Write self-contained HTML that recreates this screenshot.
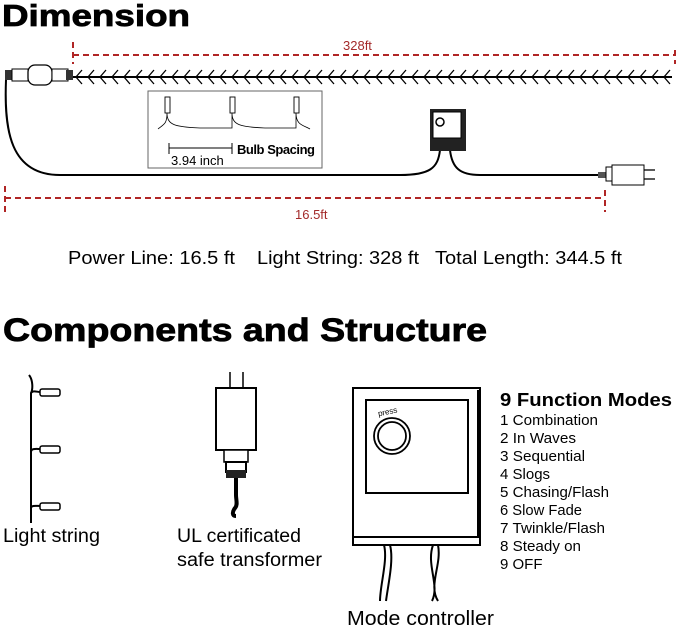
<!DOCTYPE html>
<html><head><meta charset="utf-8"><style>
html,body{margin:0;padding:0;background:#fff;}
svg{display:block;font-family:"Liberation Sans",Arial,sans-serif;}
</style></head><body>
<svg width="679" height="628" viewBox="0 0 679 628" xmlns="http://www.w3.org/2000/svg">
<text x="2" y="26" font-size="31" font-weight="bold" fill="#000" textLength="188" lengthAdjust="spacingAndGlyphs" stroke="#000" stroke-width="0.8">Dimension</text>
<g stroke="#b02525" stroke-width="2" stroke-dasharray="6,4" fill="none">
<line x1="73" y1="55" x2="675" y2="55"/>
<line x1="73" y1="42" x2="73" y2="64"/>
<line x1="675" y1="50" x2="675" y2="64"/>
<line x1="5" y1="198" x2="605" y2="198"/>
<line x1="5" y1="186" x2="5" y2="212"/>
<line x1="605" y1="190" x2="605" y2="212"/>
</g>
<text x="343" y="50" font-size="13" fill="#a32a2a">328ft</text>
<text x="295" y="219" font-size="13" fill="#a32a2a">16.5ft</text>
<line x1="72" y1="77" x2="672" y2="77" stroke="#000" stroke-width="2"/>
<g stroke="#000" stroke-width="1.3" fill="none">
<path d="M82 70 L76 77 L82 84 M94 70 L88 77 L94 84 M106 70 L100 77 L106 84 M118 70 L112 77 L118 84 M130 70 L124 77 L130 84 M142 70 L136 77 L142 84 M154 70 L148 77 L154 84 M166 70 L160 77 L166 84 M178 70 L172 77 L178 84 M190 70 L184 77 L190 84 M202 70 L196 77 L202 84 M214 70 L208 77 L214 84 M226 70 L220 77 L226 84 M238 70 L232 77 L238 84 M250 70 L244 77 L250 84 M262 70 L256 77 L262 84 M274 70 L268 77 L274 84 M286 70 L280 77 L286 84 M298 70 L292 77 L298 84 M310 70 L304 77 L310 84 M322 70 L316 77 L322 84 M334 70 L328 77 L334 84 M346 70 L340 77 L346 84 M358 70 L352 77 L358 84 M370 70 L364 77 L370 84 M382 70 L376 77 L382 84 M394 70 L388 77 L394 84 M406 70 L400 77 L406 84 M418 70 L412 77 L418 84 M430 70 L424 77 L430 84 M442 70 L436 77 L442 84 M454 70 L448 77 L454 84 M466 70 L460 77 L466 84 M478 70 L472 77 L478 84 M490 70 L484 77 L490 84 M502 70 L496 77 L502 84 M514 70 L508 77 L514 84 M526 70 L520 77 L526 84 M538 70 L532 77 L538 84 M550 70 L544 77 L550 84 M562 70 L556 77 L562 84 M574 70 L568 77 L574 84 M586 70 L580 77 L586 84 M598 70 L592 77 L598 84 M610 70 L604 77 L610 84 M622 70 L616 77 L622 84 M634 70 L628 77 L634 84 M646 70 L640 77 L646 84 M658 70 L652 77 L658 84 M670 70 L664 77 L670 84"/>
</g>
<rect x="5" y="70" width="8" height="10" fill="#333"/>
<rect x="12" y="69" width="16" height="12" fill="#fff" stroke="#000"/>
<rect x="28" y="65" width="24" height="20" rx="7" fill="#fff" stroke="#000" stroke-width="1.3"/>
<rect x="52" y="69" width="16" height="12" fill="#fff" stroke="#000"/>
<rect x="66" y="70" width="7" height="10" fill="#333"/>
<path d="M6 80 C4 130 10 175 60 175 L400 175 C430 175 438 168 440 150" stroke="#000" stroke-width="2" fill="none"/>
<path d="M450 150 C452 168 460 175 480 175 L600 175" stroke="#000" stroke-width="2" fill="none"/>
<rect x="430" y="109" width="36" height="42" fill="#222"/>
<rect x="433" y="112" width="28" height="26" fill="#fff" stroke="#000"/>
<circle cx="440" cy="122" r="4" fill="none" stroke="#000" stroke-width="1.5"/>
<rect x="598" y="172" width="8" height="6" fill="#555"/>
<rect x="606" y="167" width="6" height="14" fill="#fff" stroke="#000"/>
<rect x="612" y="165" width="32" height="20" fill="#fff" stroke="#000"/>
<line x1="644" y1="170" x2="655" y2="170" stroke="#000" stroke-width="1.3"/>
<line x1="644" y1="179" x2="655" y2="179" stroke="#000" stroke-width="1.3"/>
<rect x="148" y="91" width="174" height="77" fill="#fff" stroke="#666"/>
<g stroke="#000" stroke-width="0.9" fill="#fff">
<rect x="165" y="97" width="5" height="16"/>
<rect x="230" y="97" width="5" height="16"/>
<rect x="294" y="97" width="5" height="16"/>
</g>
<path d="M158 129 C164 124 167 124 167 113 C167 125 175 127 200 128 L232 128 C232 124 232 118 232 113 C232 125 240 127 265 128 L296 128 C296 120 296 115 296 113 C296 125 303 125 310 129" stroke="#000" stroke-width="0.8" fill="none"/>
<line x1="169" y1="148" x2="232" y2="148" stroke="#000" stroke-width="1"/>
<line x1="169" y1="143" x2="169" y2="154" stroke="#000"/>
<line x1="232" y1="143" x2="232" y2="154" stroke="#000"/>
<text x="171" y="165" font-size="13" fill="#000">3.94 inch</text>
<text x="237" y="154" font-size="13" font-weight="bold" fill="#000" textLength="78">Bulb Spacing</text>
<g font-size="18.5" fill="#000">
<text x="68" y="264" textLength="167" lengthAdjust="spacingAndGlyphs">Power Line: 16.5 ft</text>
<text x="257" y="264" textLength="162" lengthAdjust="spacingAndGlyphs">Light String: 328 ft</text>
<text x="435" y="264" textLength="187" lengthAdjust="spacingAndGlyphs">Total Length: 344.5 ft</text>
</g>
<text x="3" y="341" font-size="32" font-weight="bold" fill="#000" textLength="484" lengthAdjust="spacingAndGlyphs" stroke="#000" stroke-width="0.8">Components and Structure</text>
<path d="M29 375 C33 380 33 389 31 393 L31 523 M31 393 C33 390 37 392 40 392 M31 452 C31 448 37 449 40 449 M31 508 C31 505 37 506 40 506" stroke="#000" stroke-width="2" fill="none"/>
<g fill="#fff" stroke="#000" stroke-width="1.5">
<rect x="40" y="389" width="20" height="7" rx="2"/>
<rect x="40" y="446" width="20" height="7" rx="2"/>
<rect x="40" y="503" width="20" height="7" rx="2"/>
</g>
<text x="3" y="542" font-size="19" fill="#000" textLength="97" lengthAdjust="spacingAndGlyphs">Light string</text>
<line x1="230" y1="372" x2="230" y2="388" stroke="#000" stroke-width="1.5"/>
<line x1="243" y1="372" x2="243" y2="388" stroke="#000" stroke-width="1.5"/>
<rect x="216" y="388" width="40" height="62" fill="#fff" stroke="#000" stroke-width="2"/>
<rect x="224" y="450" width="24" height="12" fill="#fff" stroke="#000" stroke-width="1.5"/>
<rect x="226" y="462" width="20" height="10" fill="#fff" stroke="#000" stroke-width="2"/>
<rect x="226" y="470" width="20" height="8" fill="#222"/>
<path d="M236 478 L236 495 C236 500 238 505 235 508 C232 512 232 516 236 516" stroke="#000" stroke-width="4" fill="none"/>
<text x="177" y="542" font-size="19" fill="#000" textLength="124" lengthAdjust="spacingAndGlyphs">UL certificated</text>
<text x="177" y="566" font-size="19" fill="#000" textLength="145" lengthAdjust="spacingAndGlyphs">safe transformer</text>
<rect x="353" y="388" width="127" height="149" fill="#fff" stroke="#000" stroke-width="2"/>
<line x1="479" y1="390" x2="479" y2="536" stroke="#000" stroke-width="4"/>
<rect x="366" y="400" width="102" height="93" fill="#fff" stroke="#000" stroke-width="2"/>
<circle cx="392" cy="436" r="18" fill="#fff" stroke="#000" stroke-width="1.8"/>
<circle cx="392" cy="436" r="14" fill="#fff" stroke="#000" stroke-width="1.8"/>
<text x="378" y="415" font-size="8" fill="#000" transform="rotate(-12 385 413)">press</text>
<rect x="353" y="537" width="127" height="8" fill="#fff" stroke="#000" stroke-width="2"/>
<path d="M384 545 C388 560 380 585 380 601 M390 545 C394 560 388 585 386 601 M433 545 C426 565 440 585 432 601 M438 545 C442 565 428 585 438 601" stroke="#000" stroke-width="2" fill="none"/>
<text x="347" y="625" font-size="20" fill="#000" textLength="147" lengthAdjust="spacingAndGlyphs">Mode controller</text>
<text x="500" y="406" font-size="18" font-weight="bold" fill="#000" textLength="172" lengthAdjust="spacingAndGlyphs">9 Function Modes</text>
<g font-size="15" fill="#000">
<text x="500" y="425" textLength="98" lengthAdjust="spacingAndGlyphs">1 Combination</text>
<text x="500" y="443" textLength="76" lengthAdjust="spacingAndGlyphs">2 In Waves</text>
<text x="500" y="461" textLength="85" lengthAdjust="spacingAndGlyphs">3 Sequential</text>
<text x="500" y="479">4 Slogs</text>
<text x="500" y="497" textLength="109" lengthAdjust="spacingAndGlyphs">5 Chasing/Flash</text>
<text x="500" y="515" textLength="82" lengthAdjust="spacingAndGlyphs">6 Slow Fade</text>
<text x="500" y="533" textLength="105" lengthAdjust="spacingAndGlyphs">7 Twinkle/Flash</text>
<text x="500" y="551" textLength="81" lengthAdjust="spacingAndGlyphs">8 Steady on</text>
<text x="500" y="569">9 OFF</text>
</g>
</svg>
</body></html>
